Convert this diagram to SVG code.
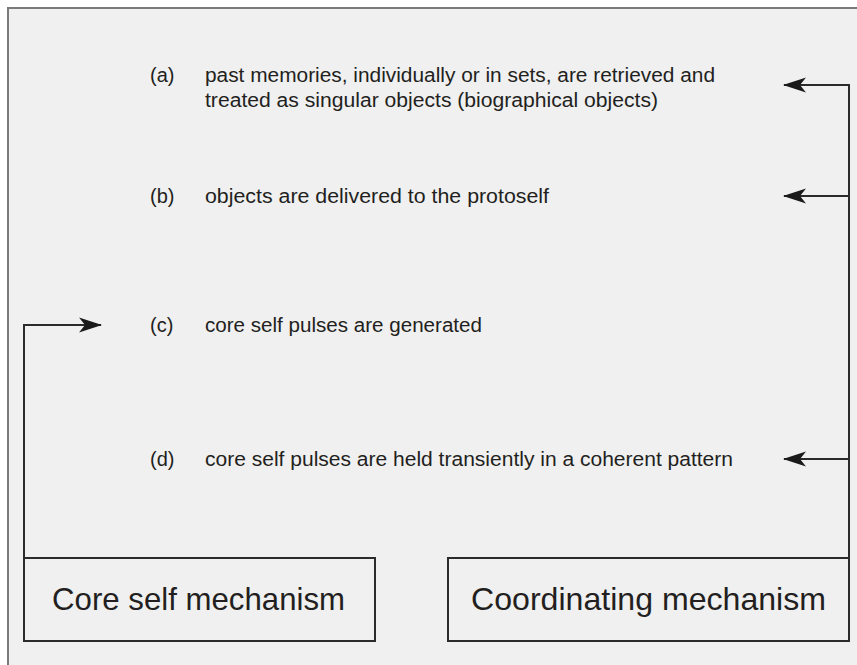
<svg xmlns="http://www.w3.org/2000/svg" width="857" height="665" viewBox="0 0 857 665">
  <style>
    .item { font-family: "Liberation Sans", Arial, sans-serif; font-size: 20px; fill: #231f20; }
    .label { font-family: "Liberation Sans", Arial, sans-serif; font-size: 32px; fill: #231f20; }
    .box { fill: none; stroke: #2b2b2b; stroke-width: 2; }
    .wire { fill: none; stroke: #2b2b2b; stroke-width: 2; }
  </style>
  <defs>
    <marker id="head" viewBox="0 0 23 16" refX="22" refY="8" markerWidth="23" markerHeight="16" markerUnits="userSpaceOnUse" orient="auto">
      <path d="M0,0.5 L23,8 L0,15.5 L6,8 Z" fill="#1a1a1a"/>
    </marker>
  </defs>

  <!-- page panel -->
  <rect x="0" y="0" width="857" height="665" fill="#ffffff"/>
  <rect x="8" y="8" width="862" height="670" fill="#f0f0f0" stroke="#7a7a7a" stroke-width="2"/>

  <!-- steps -->
  <g id="step-a">
    <text class="item" x="150" y="82">(a)</text>
    <text class="item" x="205" y="82" textLength="510" lengthAdjust="spacingAndGlyphs">past memories, individually or in sets, are retrieved and</text>
    <text class="item" x="205" y="107" textLength="453" lengthAdjust="spacingAndGlyphs">treated as singular objects (biographical objects)</text>
  </g>
  <g id="step-b">
    <text class="item" x="150" y="203">(b)</text>
    <text class="item" x="205" y="203" textLength="344" lengthAdjust="spacingAndGlyphs">objects are delivered to the protoself</text>
  </g>
  <g id="step-c">
    <text class="item" x="150" y="332">(c)</text>
    <text class="item" x="205" y="332" textLength="277" lengthAdjust="spacingAndGlyphs">core self pulses are generated</text>
  </g>
  <g id="step-d">
    <text class="item" x="150" y="466">(d)</text>
    <text class="item" x="205" y="466" textLength="528" lengthAdjust="spacingAndGlyphs">core self pulses are held transiently in a coherent pattern</text>
  </g>

  <!-- mechanisms -->
  <g id="core-self">
    <rect class="box" x="24" y="558" width="351" height="83"/>
    <text class="label" x="52" y="610" textLength="293" lengthAdjust="spacingAndGlyphs">Core self mechanism</text>
  </g>
  <g id="coordinating">
    <rect class="box" x="448" y="558" width="401" height="83"/>
    <text class="label" x="471" y="610" textLength="355" lengthAdjust="spacingAndGlyphs">Coordinating mechanism</text>
  </g>

  <!-- connectors -->
  <g id="connectors">
    <path class="wire" d="M24,558 V325 H101" marker-end="url(#head)"/>
    <path class="wire" d="M849,558 V85 H784" marker-end="url(#head)"/>
    <path class="wire" d="M849,196 H784" marker-end="url(#head)"/>
    <path class="wire" d="M849,459 H784" marker-end="url(#head)"/>
  </g>
</svg>
